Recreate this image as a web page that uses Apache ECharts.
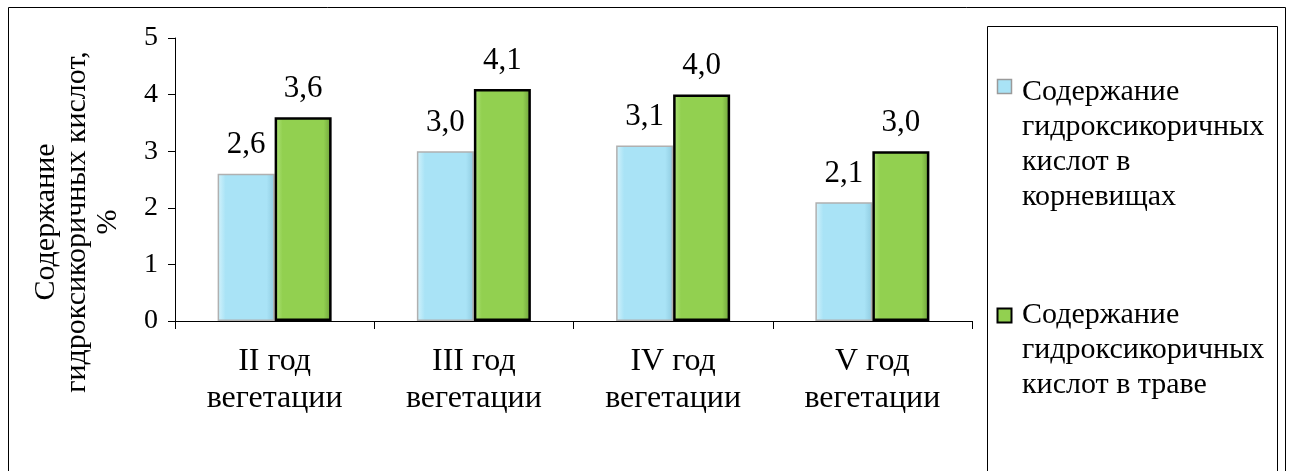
<!DOCTYPE html>
<html>
<head>
<meta charset="utf-8">
<script src="https://cdn.jsdelivr.net/npm/echarts@6/dist/echarts.min.js"></script>
<style>
  html, body { margin: 0; padding: 0; background: #fff; }
  #chart { width: 1294px; height: 471px; }
</style>
</head>
<body>
<div id="chart"></div>
<script>
// Содержание гидроксикоричных кислот по годам вегетации, %
const categories = ['II год\nвегетации', 'III год\nвегетации', 'IV год\nвегетации', 'V год\nвегетации'];
const rhizomeValues = [2.6, 3.0, 3.1, 2.1];
const herbValues = [3.6, 4.1, 4.0, 3.0];
const seriesNames = [
  'Содержание\nгидроксикоричных\nкислот в\nкорневищах',
  'Содержание\nгидроксикоричных\nкислот в траве'
];
const yAxisTitle = 'Содержание\nгидроксикоричных кислот,\n%';

const FONT = '"Liberation Serif", "Times New Roman", serif';
const BLUE = '#a9e3f6';
const GREEN = '#92d050';

// horizontal shading that gives the bars a slightly bevelled look
function grad(light, mid, dark) {
  return new echarts.graphic.LinearGradient(0, 0, 1, 0, [
    { offset: 0, color: light },
    { offset: 0.14, color: mid },
    { offset: 0.86, color: mid },
    { offset: 1, color: dark }
  ]);
}

const fmt = p => p.value.toFixed(1).replace('.', ',');

const chart = echarts.init(document.getElementById('chart'), null, { renderer: 'canvas' });

chart.setOption({
  backgroundColor: '#fff',
  animation: false,
  grid: { left: 175, right: 322, top: 38, bottom: 150, containLabel: false },
  xAxis: {
    type: 'category',
    data: categories,
    axisLine: { lineStyle: { color: '#000', width: 1 } },
    axisTick: { show: true, length: 8, lineStyle: { color: '#000' } },
    axisLabel: {
      interval: 0, margin: 22,
      fontFamily: FONT, fontSize: 32, lineHeight: 37, color: '#000'
    }
  },
  yAxis: {
    type: 'value',
    min: 0, max: 5, interval: 1,
    axisLine: { show: true, lineStyle: { color: '#000', width: 1 } },
    axisTick: { show: true, length: 7, lineStyle: { color: '#000' } },
    splitLine: { show: false },
    axisLabel: { margin: 17, fontFamily: FONT, fontSize: 28, color: '#000' }
  },
  series: [
    {
      name: seriesNames[0],
      type: 'bar',
      data: rhizomeValues,
      barWidth: 57,
      barGap: '0%',
      itemStyle: {
        color: grad('#d4f3fc', BLUE, '#8fcbe0'),
        borderColor: '#b0b0b0',
        borderWidth: 1.5
      },
      label: {
        show: true, position: 'top', distance: 13, formatter: fmt,
        fontFamily: FONT, fontSize: 31, color: '#000'
      }
    },
    {
      name: seriesNames[1],
      type: 'bar',
      data: herbValues,
      barWidth: 57,
      itemStyle: {
        color: grad('#b2e57e', GREEN, '#6c9e3a'),
        borderColor: '#000',
        borderWidth: 2.5
      },
      label: {
        show: true, position: 'top', distance: 13, formatter: fmt,
        fontFamily: FONT, fontSize: 31, color: '#000'
      }
    }
  ],
  graphic: [
    // outer frame
    { type: 'rect', shape: { x: 8.5, y: 7.5, width: 1277, height: 500 },
      style: { fill: 'none', stroke: '#000', lineWidth: 1 }, silent: true },
    // legend frame
    { type: 'rect', shape: { x: 987.5, y: 26.5, width: 290, height: 500 },
      style: { fill: 'none', stroke: '#000', lineWidth: 1 }, silent: true },
    // y axis title
    { type: 'text', x: 77, y: 222, rotation: Math.PI / 2,
      style: { text: yAxisTitle, fontFamily: FONT, fontSize: 30, lineHeight: 31,
               fill: '#000', align: 'center', verticalAlign: 'middle' } },
    // legend items
    { type: 'rect', shape: { x: 997.5, y: 79.5, width: 14, height: 14 },
      style: { fill: BLUE, stroke: '#9a9a9a', lineWidth: 1.5 } },
    { type: 'text', x: 1022, y: 74.5,
      style: { text: seriesNames[0], fontFamily: FONT, fontSize: 30, lineHeight: 35,
               fill: '#000', align: 'left', verticalAlign: 'top' } },
    { type: 'rect', shape: { x: 997.5, y: 308.5, width: 14, height: 14 },
      style: { fill: GREEN, stroke: '#000', lineWidth: 2 } },
    { type: 'text', x: 1022, y: 297.5,
      style: { text: seriesNames[1], fontFamily: FONT, fontSize: 30, lineHeight: 35,
               fill: '#000', align: 'left', verticalAlign: 'top' } }
  ]
});
</script>
</body>
</html>
